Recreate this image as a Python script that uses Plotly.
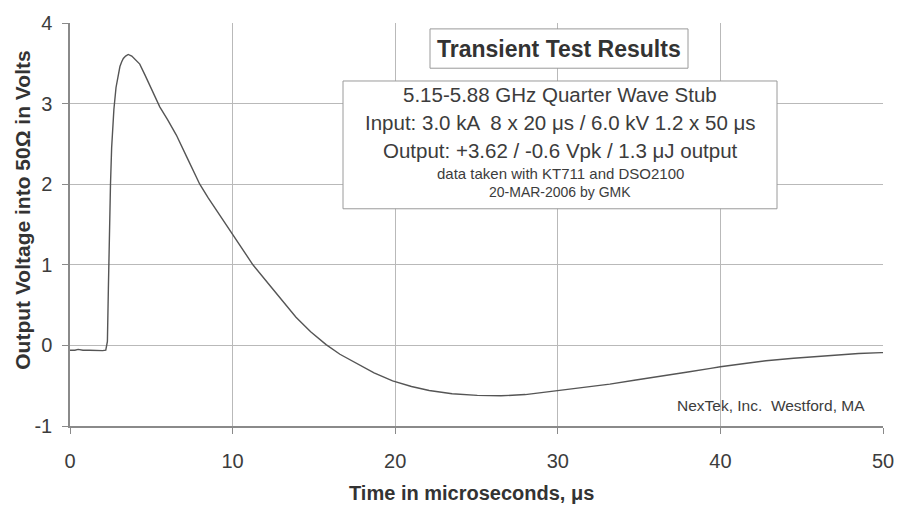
import plotly.graph_objects as go

# Data (time in microseconds, output in volts)
time_us = [0.0, 0.3, 0.5, 0.8, 1.2, 1.6, 2.0, 2.2, 2.3, 2.36, 2.42, 2.49, 2.56, 2.62, 2.7,
           2.83, 2.95, 3.07, 3.18, 3.28, 3.42, 3.58, 3.8, 4.0, 4.29, 4.6, 4.91, 5.2, 5.52,
           6.0, 6.54, 7.2, 7.98, 8.5, 9.02, 9.82, 10.5, 11.25, 12.47, 13.2, 13.9, 14.8,
           15.75, 16.6, 17.59, 18.7, 19.84, 21.0, 22.09, 23.5, 25.05, 26.5, 28.0, 30.0,
           31.5, 33.2, 34.8, 36.5, 38.0, 39.4, 40.0, 41.5, 42.8, 44.5, 46.9, 48.5, 49.9, 50.0]
volts = [-0.06, -0.06, -0.05, -0.06, -0.06, -0.065, -0.065, -0.06, 0.05, 0.70, 1.51, 2.0,
         2.45, 2.73, 2.93, 3.20, 3.35, 3.46, 3.52, 3.56, 3.59, 3.61, 3.59, 3.55, 3.49,
         3.36, 3.22, 3.09, 2.96, 2.80, 2.61, 2.33, 2.0, 1.83, 1.67, 1.43, 1.22, 1.0, 0.70,
         0.52, 0.35, 0.17, 0.01, -0.11, -0.215, -0.34, -0.44, -0.51, -0.56, -0.60, -0.62,
         -0.625, -0.61, -0.56, -0.53, -0.48, -0.43, -0.38, -0.33, -0.285, -0.265, -0.225,
         -0.19, -0.16, -0.12, -0.10, -0.09, -0.09]

x_ticks = [0, 10, 20, 30, 40, 50]
y_ticks = [-1, 0, 1, 2, 3, 4]

title_text = "Transient Test Results"
info_lines = ["5.15-5.88 GHz Quarter Wave Stub",
              "Input: 3.0 kA  8 x 20 \u03bcs / 6.0 kV 1.2 x 50 \u03bcs",
              "Output: +3.62 / -0.6 Vpk / 1.3 \u03bcJ output",
              "data taken with KT711 and DSO2100",
              "20-MAR-2006 by GMK"]
credit_text = "NexTek, Inc.  Westford, MA"
x_title = "Time in microseconds, \u03bcs"
y_title = "Output Voltage into 50\u03a9 in Volts"

FONT = "Liberation Sans, Arial, sans-serif"
TXT = "#3c3c3c"
GRID = "#b9b9b9"

fig = go.Figure()
fig.add_trace(go.Scatter(x=time_us, y=volts, mode="lines",
                         line=dict(color="#555555", width=1.4),
                         hoverinfo="x+y", showlegend=False))

fig.update_layout(
    width=907, height=509,
    margin=dict(l=70, r=24, t=16, b=83),
    paper_bgcolor="#ffffff", plot_bgcolor="#ffffff",
    font=dict(family=FONT, color=TXT, size=20),
    showlegend=False,
)
fig.update_xaxes(range=[0, 50], tickvals=x_ticks, ticktext=[str(v) for v in x_ticks],
                 showgrid=True, gridcolor=GRID, gridwidth=1, zeroline=False,
                 showline=True, linecolor="#8a8a8a", linewidth=1.5,
                 ticks="outside", ticklen=6, tickcolor="#8a8a8a",
                 ticklabelstandoff=10, tickfont=dict(size=20, color=TXT))
fig.update_yaxes(range=[-1, 4], tickvals=y_ticks, ticktext=[str(v) for v in y_ticks],
                 showgrid=True, gridcolor=GRID, gridwidth=1, zeroline=False,
                 showline=True, linecolor="#8a8a8a", linewidth=1.5,
                 ticks="outside", ticklen=6, tickcolor="#8a8a8a",
                 ticklabelstandoff=6, tickfont=dict(size=20, color=TXT))


def px(X):
    return (X - 70) / 813.0


def py(Y):
    return (426 - Y) / 410.0


# boxes
fig.add_shape(type="rect", xref="paper", yref="paper",
              x0=px(430), x1=px(688), y0=py(62), y1=py(22),
              line=dict(color="#9a9a9a", width=1), fillcolor="#ffffff", layer="above")
fig.add_shape(type="rect", xref="paper", yref="paper",
              x0=px(343), x1=px(777), y0=py(205), y1=py(75),
              line=dict(color="#9a9a9a", width=1), fillcolor="#ffffff", layer="above")

fig.add_annotation(x=px(559), y=py(42), xref="paper", yref="paper", text="<b>%s</b>" % title_text,
                   showarrow=False, font=dict(size=23, color="#333333", family=FONT),
                   xanchor="center", yanchor="middle")

line_y = [89, 117.5, 145.5, 169, 187.5]
line_sz = [20.5, 20.5, 20.5, 15, 14]
for txt, yy, sz in zip(info_lines, line_y, line_sz):
    fig.add_annotation(x=px(560), y=py(yy), xref="paper", yref="paper", text=txt,
                       showarrow=False, font=dict(size=sz, color=TXT, family=FONT),
                       xanchor="center", yanchor="middle")

fig.add_annotation(x=px(770.5), y=py(405), xref="paper", yref="paper", text=credit_text,
                   showarrow=False, font=dict(size=15.5, color=TXT, family=FONT),
                   xanchor="center", yanchor="middle")

fig.add_annotation(x=px(471), y=py(494), xref="paper", yref="paper", text="<b>%s</b>" % x_title,
                   showarrow=False, font=dict(size=20, color="#333333", family=FONT),
                   xanchor="center", yanchor="middle")
fig.add_annotation(x=px(23), y=py(207), xref="paper", yref="paper", text="<b>%s</b>" % y_title,
                   showarrow=False, textangle=-90, font=dict(size=21, color="#333333", family=FONT),
                   xanchor="center", yanchor="middle")

fig.write_html("out.html", config={"displayModeBar": False},
               post_script="document.body.style.margin='0';document.body.style.overflow='hidden';")
